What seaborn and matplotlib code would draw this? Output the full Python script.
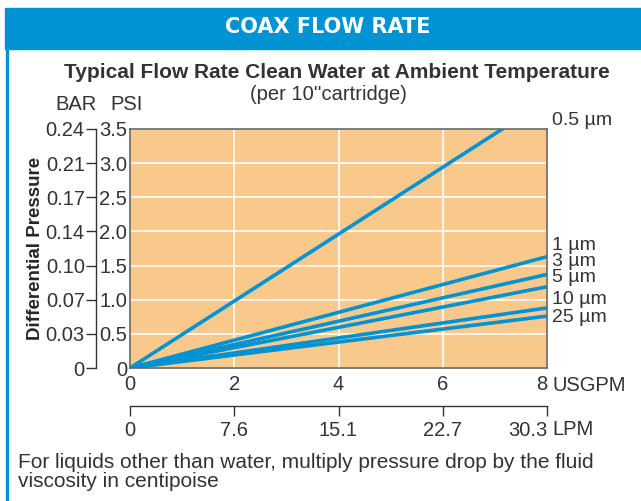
import numpy as np
import pandas as pd
import matplotlib
matplotlib.use('Agg')
import matplotlib.pyplot as plt
import seaborn as sns

# Daten
filters = ['0.5 µm', '1 µm', '3 µm', '5 µm', '10 µm', '25 µm']
flow_gpm = [0, 8]
psi_at_8gpm = [3.92, 1.63, 1.37, 1.19, 0.88, 0.76]

psi_ticks = [0, 0.5, 1.0, 1.5, 2.0, 2.5, 3.0, 3.5]
psi_labels = ['0', '0.5', '1.0', '1.5', '2.0', '2.5', '3.0', '3.5']
bar_labels = ['0', '0.03', '0.07', '0.10', '0.14', '0.17', '0.21', '0.24']
gpm_ticks = [0, 2, 4, 6, 8]
lpm_labels = ['0', '7.6', '15.1', '22.7', '30.3']

rows = []
for name, v in zip(filters, psi_at_8gpm):
    for q in flow_gpm:
        rows.append({'filter': name, 'gpm': q, 'psi': v * q / 8})
df = pd.DataFrame(rows)

blue = '#0093D3'
orange = '#F9C88B'
txt = '#333333'
fs = 14.5

sns.set_theme(style='white')
plt.rcParams['font.family'] = ['Liberation Sans', 'DejaVu Sans']
plt.rcParams['text.color'] = txt

fig = plt.figure(figsize=(6.41, 5.01), dpi=100)

# Kopfzeile
fig.patches.append(plt.Rectangle((5/641, 1 - 49/501), 1, 41/501, transform=fig.transFigure,
                                 color=blue, zorder=0))
fig.patches.append(plt.Rectangle((6/641, 0), 1.5/641, 1 - 49/501, transform=fig.transFigure,
                                 color=blue, zorder=0))
fig.text(0.511, 1 - 27/501, 'COAX FLOW RATE', color='white', fontsize=15,
         fontweight='bold', ha='center', va='center', family='DejaVu Sans')
fig.text(0.526, 1 - 73/501, 'Typical Flow Rate Clean Water at Ambient Temperature',
         fontsize=15, fontweight='bold', ha='center', va='center')
fig.text(0.513, 1 - 95/501, "(per 10''cartridge)", fontsize=fs, ha='center', va='center')
fig.text(55/641, 1 - 105/501, 'BAR', fontsize=fs, ha='left', va='center')
fig.text(110/641, 1 - 105/501, 'PSI', fontsize=fs, ha='left', va='center')

ax = fig.add_axes([130/641, 1 - 368/501, 417/641, 239/501])
ax.set_facecolor(orange)
sns.lineplot(data=df, x='gpm', y='psi', units='filter', estimator=None,
             color=blue, linewidth=2.6, ax=ax)
ax.set_xlim(0, 8)
ax.set_ylim(0, 3.5)
ax.set_xticks(gpm_ticks)
ax.set_yticks(psi_ticks)
ax.set_yticklabels(psi_labels)
ax.grid(True, color='white', linewidth=1.2)
ax.set_axisbelow(True)
ax.tick_params(axis='both', length=0, labelsize=fs, labelcolor=txt)
ax.tick_params(axis='y', pad=2)
ax.tick_params(axis='x', pad=5)
ax.get_xticklabels()[-1].set_ha('right')
ax.set_xlabel('')
ax.set_ylabel('')
for s in ax.spines.values():
    s.set_color('#666666')
    s.set_linewidth(1.2)

# Beschriftung der Kurven
label_y = [3.62, 1.80, 1.56, 1.32, 1.00, 0.74]
for name, yy in zip(filters, label_y):
    ax.text(8.1, yy, name, fontsize=14, va='center', ha='left', clip_on=False)
ax.text(8.1, -0.25, 'USGPM', fontsize=fs, va='center', ha='left', clip_on=False)

# BAR-Achse links
ax2 = ax.twinx()
ax2.set_ylim(0, 3.5)
ax2.set_yticks(psi_ticks)
ax2.set_yticklabels(bar_labels)
ax2.yaxis.set_ticks_position('left')
ax2.yaxis.set_label_position('left')
for k in ['top', 'right', 'bottom']:
    ax2.spines[k].set_visible(False)
ax2.spines['left'].set_position(('outward', 24.5))
ax2.spines['left'].set_color(txt)
ax2.spines['left'].set_linewidth(1)
ax2.tick_params(axis='y', direction='out', length=7, width=1, color=txt,
                labelsize=fs, labelcolor=txt, pad=1)
ax2.set_ylabel('Differential Pressure', fontsize=13.5, fontweight='bold', labelpad=1)
ax2.grid(False)

# LPM-Achse unten
ax3 = ax.twiny()
ax3.set_xlim(0, 8)
ax3.set_xticks(gpm_ticks)
ax3.set_xticklabels(lpm_labels)
ax3.xaxis.set_ticks_position('bottom')
for k in ['top', 'right', 'left']:
    ax3.spines[k].set_visible(False)
ax3.spines['bottom'].set_position(('outward', 27))
ax3.spines['bottom'].set_color(txt)
ax3.spines['bottom'].set_linewidth(1)
ax3.tick_params(axis='x', direction='out', length=7, width=1, color=txt,
                labelsize=fs, labelcolor=txt, pad=4)
ax3.get_xticklabels()[-1].set_ha('right')
ax3.grid(False)
ax3.text(8.1, -0.9, 'LPM', fontsize=fs, va='center', ha='left', clip_on=False,
         transform=ax.transData)

fig.text(18/641, 1 - 472/501,
         'For liquids other than water, multiply pressure drop by the fluid\nviscosity in centipoise',
         fontsize=15, ha='left', va='center', linespacing=1.05)

plt.savefig('out.png', dpi=100)
plt.close()
